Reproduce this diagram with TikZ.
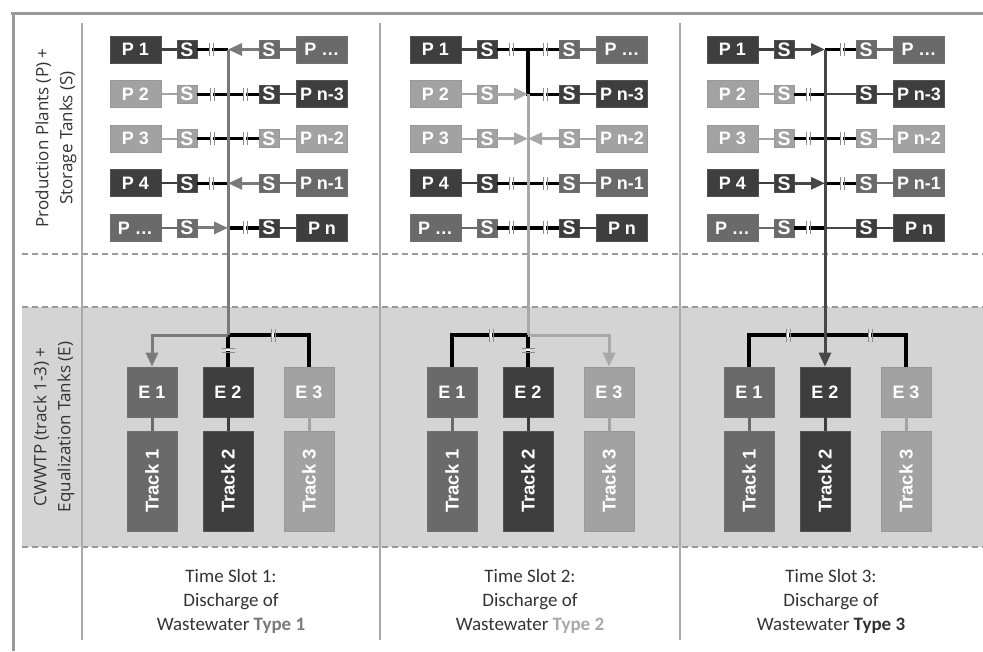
\documentclass[tikz,border=0pt]{standalone}
\usepackage{fontspec}
\setmainfont{Liberation Sans}
\newfontfamily\calfont{Carlito}
\newfontfamily\labfont{Open Sans}
\usetikzlibrary{arrows.meta,calc}
\definecolor{dk}{HTML}{3E3E3E}
\definecolor{md}{HTML}{6A6A6A}
\definecolor{lt}{HTML}{A2A2A2}
\definecolor{flowA}{HTML}{7A7A7A}
\definecolor{flowB}{HTML}{A8A8A8}
\definecolor{flowC}{HTML}{474747}
\definecolor{band}{HTML}{D4D4D4}
\definecolor{framec}{HTML}{9A9A9A}
\definecolor{sepc}{HTML}{AAAAAA}
\definecolor{txt}{HTML}{333333}
\definecolor{tickc}{HTML}{8C8C8C}
\tikzset{
  vtk/.pic={\fill[white] (-1.3,-2.2) rectangle (1.3,2.2);
            \draw[tickc,line width=0.9pt] (-2,-6.5) -- (-2,6.5) (2,-6.5) -- (2,6.5);},
  htk/.pic={\fill[white] (-2.2,-1.3) rectangle (2.2,1.3);
            \draw[tickc,line width=0.9pt] (-6.5,-2) -- (6.5,-2) (-6.5,2) -- (6.5,2);}
}
\begin{document}
\begin{tikzpicture}[x=1pt,y=-1pt,
  box/.style={draw=#1!70!gray, fill=#1, text=white, inner sep=0pt, line width=0.8pt},
  pbox/.style={box=#1, minimum width=51pt, minimum height=27pt, font=\fontsize{18}{18}\selectfont\bfseries},
  sbox/.style={box=#1, minimum width=20pt, minimum height=18pt, font=\fontsize{19.5}{19.5}\selectfont\bfseries},
  ebox/.style={box=#1, minimum width=50pt, minimum height=50pt, font=\fontsize{18}{18}\selectfont\bfseries},
  tbox/.style={box=#1, minimum width=100pt, minimum height=50pt, rotate=90, font=\fontsize{18.5}{18.5}\selectfont\bfseries},
  flowline/.style={draw=#1, line width=3pt, -{Triangle[length=14pt,width=12pt]}},
  trunkline/.style={draw=#1, line width=3pt},
  closedline/.style={draw=black, line width=3.2pt},
  linkline/.style={draw=#1, line width=2.2pt},
  dashln/.style={draw=framec, line width=1.4pt, dash pattern=on 6pt off 4pt},
  sepln/.style={draw=sepc, line width=1.6pt},
  slot/.style={align=center, font=\calfont\fontsize{19}{24}\selectfont, text=txt},
  lab/.style={align=center, font=\labfont\fontsize{17}{24}\selectfont, text=txt, rotate=90}
]
\useasboundingbox (0,0) rectangle (983,651);
% background band and grid
\fill[band] (22,307) rectangle (983,547);
\draw[dashln] (22,254) -- (983,254);
\draw[dashln] (22,307) -- (983,307);
\draw[dashln] (22,547) -- (983,547);
\foreach \xs in {82,380,680} \draw[sepln] (\xs,23) -- (\xs,640);
\draw[framec, line width=3pt] (11,13) -- (983,13);
\draw[framec, line width=3pt] (13,12) -- (13,651);
% side labels
\node[lab] (labtop) at (56,138) {Production Plants (P) +\\Storage Tanks (S)};
\node[lab] (labbot) at (54,427) {CWWTP (track 1-3) +\\Equalization Tanks (E)};
% boxes
\foreach \c/\dx in {1/0,2/300,3/597}{
  \foreach \r/\y/\lc/\ltx/\rc/\rtx in {1/49.5/dk/P 1/md/P …,2/94.1/lt/P 2/dk/P n-3,3/138.7/lt/P 3/lt/P n-2,4/183.3/dk/P 4/md/P n-1,5/227.9/md/P …/dk/P n}{
    \node[pbox=\lc] (P\c-\r-l) at (135.5+\dx,\y) {\ltx};
    \node[sbox=\lc] (S\c-\r-l) at (187+\dx,\y) {S};
    \node[sbox=\rc] (S\c-\r-r) at (269+\dx,\y) {S};
    \node[pbox=\rc] (P\c-\r-r) at (322+\dx,\y) {\rtx};
    \coordinate (J\c-\r) at (228+\dx,\y);
    \draw[linkline=\lc] (P\c-\r-l) -- (S\c-\r-l);
    \draw[linkline=\rc] (S\c-\r-r) -- (P\c-\r-r);
  }
  \coordinate (B\c) at (228+\dx,335);
  \foreach \k/\ex/\ec in {1/-76/md,2/0/dk,3/81/lt}{
    \node[ebox=\ec] (E\c-\k) at (228+\dx+\ex,392) {E \k};
    \node[tbox=\ec] (T\c-\k) at (228+\dx+\ex,481) {Track \k};
    \draw[linkline=\ec, line width=3pt] (E\c-\k) -- (T\c-\k);
  }
}
% ---------- column 1: wastewater type 1 ----------
\draw[closedline] (S1-1-l) -- (J1-1);
\draw[closedline] (S1-2-l) -- (S1-2-r);
\draw[closedline] (S1-3-l) -- (S1-3-r);
\draw[closedline] (S1-4-l) -- (J1-4);
\draw[closedline] (J1-5) -- (S1-5-r);
\draw[closedline] (B1) -- (E1-2);
\draw[closedline] (B1) -| (E1-3);
\draw[trunkline=flowA] (J1-1) -- (B1);
\draw[flowline=flowA] (S1-1-r) -- (J1-1);
\draw[flowline=flowA] (S1-4-r) -- (J1-4);
\draw[flowline=flowA] (S1-5-l) -- (J1-5);
\draw[flowline=flowA] (B1) -| (E1-1);
\foreach \n/\o in {J1-1/-17,J1-2/-16,J1-2/17,J1-3/-16,J1-3/17,J1-4/-17,J1-5/17,B1/45}
  \pic at ($(\n)+(\o,0)$) {vtk};
\pic at ($(B1)+(0,15)$) {htk};
% ---------- column 2: wastewater type 2 ----------
\draw[closedline] (S2-1-l) -- (J2-1) -- (S2-1-r);
\draw[closedline] (J2-1) -- (J2-2) -- (S2-2-r);
\draw[closedline] (S2-4-l) -- (S2-4-r);
\draw[closedline] (S2-5-l) -- (S2-5-r);
\draw[closedline] (B2) -| (E2-1);
\draw[closedline] (B2) -- (E2-2);
\draw[trunkline=flowB] (J2-2) -- (B2);
\draw[flowline=flowB] (S2-2-l) -- (J2-2);
\draw[flowline=flowB] (S2-3-l) -- (J2-3);
\draw[flowline=flowB] (S2-3-r) -- (J2-3);
\draw[flowline=flowB] (B2) -| (E2-3);
\foreach \n/\o in {J2-1/-17,J2-1/17,J2-2/17,J2-4/-17,J2-4/17,J2-5/-17,J2-5/17,B2/-37}
  \pic at ($(\n)+(\o,0)$) {vtk};
\pic at ($(B2)+(0,15)$) {htk};
% ---------- column 3: wastewater type 3 ----------
\draw[closedline] (J3-1) -- (S3-1-r);
\draw[closedline] (S3-2-l) -- (J3-2);
\draw[closedline] (S3-3-l) -- (S3-3-r);
\draw[closedline] (J3-4) -- (S3-4-r);
\draw[closedline] (S3-5-l) -- (J3-5);
\draw[closedline] (E3-1) |- (B3) -| (E3-3);
\draw[trunkline=flowC, line width=2.4pt] (J3-2) -- (S3-2-r);
\draw[trunkline=flowC, line width=2.4pt] (J3-5) -- (S3-5-r);
\draw[flowline=flowC] (J3-1) -- (E3-2);
\draw[flowline=flowC] (S3-1-l) -- (J3-1);
\draw[flowline=flowC] (S3-4-l) -- (J3-4);
\foreach \n/\o in {J3-1/17,J3-2/-17,J3-3/-17,J3-3/17,J3-4/17,J3-5/-17,B3/-37,B3/45}
  \pic at ($(\n)+(\o,0)$) {vtk};
% bottom captions
\node[slot] (ts1) at (231,601) {Time Slot 1:\\Discharge of\\Wastewater {\bfseries\color{flowA}Type 1}};
\node[slot] (ts2) at (530,601) {Time Slot 2:\\Discharge of\\Wastewater {\bfseries\color{flowB}Type 2}};
\node[slot] (ts3) at (831,601) {Time Slot 3:\\Discharge of\\Wastewater {\bfseries\color{txt}Type 3}};
\end{tikzpicture}
\end{document}
